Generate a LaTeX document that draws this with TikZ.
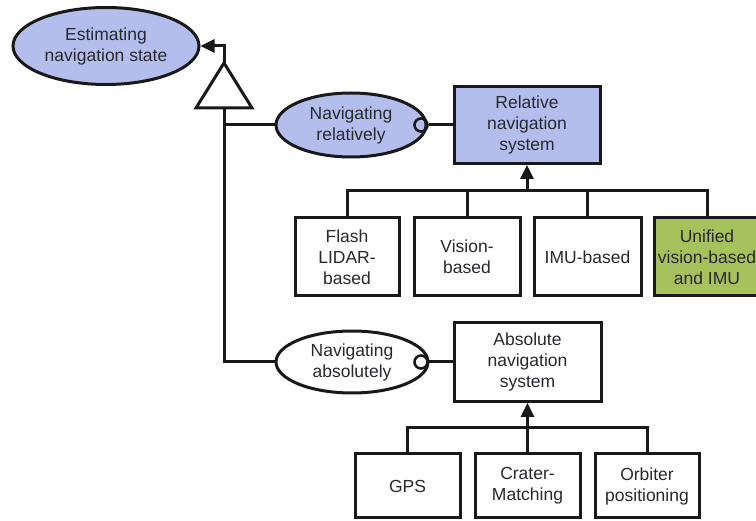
\documentclass[tikz,border=0pt]{standalone}
\usepackage{fontspec}
\setmainfont{Liberation Sans}
\usetikzlibrary{arrows.meta,shapes.geometric}
\definecolor{navblue}{RGB}{180,190,236}
\definecolor{navgreen}{RGB}{166,194,92}
\definecolor{ink}{RGB}{25,25,25}
\definecolor{txt}{RGB}{40,40,46}

\begin{document}
\begin{tikzpicture}[x=1pt,y=-1pt,
  every node/.style={font=\fontsize{17.5}{21}\selectfont, text=txt, align=center, inner sep=0pt},
  link/.style={draw=ink, line width=3pt},
  goal/.style={ellipse, draw=ink, line width=3pt},
  box/.style={rectangle, draw=ink, line width=3pt},
  plug/.style={circle, draw=ink, line width=2.6pt, minimum size=13pt},
  pointer/.style={arrows={-Triangle[length=14pt,width=13pt]}}]

\useasboundingbox (0,0) rectangle (756,521);
\clip (0,0) rectangle (756,521);

% goals
\node[goal, fill=navblue, minimum width=186pt, minimum height=77pt] (est) at (106,46) {Estimating\\navigation state};
\node[goal, fill=navblue, minimum width=150pt, minimum height=64pt] (rel) at (351,125) {Navigating\\relatively};
\node[goal, fill=white, minimum width=152pt, minimum height=62pt] (abs) at (352,362) {Navigating\\absolutely};

% interface circles on the goal borders
\node[plug] (relplug) at (421,125) {};
\node[plug] (absplug) at (421,362) {};

% systems
\node[box, fill=navblue, minimum width=146pt, minimum height=77pt] (relsys) at (527,125) {Relative\\navigation\\system};
\node[box, fill=white, minimum width=147pt, minimum height=79pt] (abssys) at (527.5,362) {Absolute\\navigation\\system};

% relative alternatives
\node[box, fill=white, minimum width=104pt, minimum height=78pt] (flash) at (347,257) {Flash\\LIDAR-\\based};
\node[box, fill=white, minimum width=106pt, minimum height=78pt] (vision) at (467,257) {Vision-\\based};
\node[box, fill=white, minimum width=107pt, minimum height=78pt] (imu) at (587.5,257) {IMU-based};
\node[box, fill=navgreen, minimum width=106pt, minimum height=78pt] (unified) at (707,257) {Unified\\vision-based\\and IMU};

% absolute alternatives
\node[box, fill=white, minimum width=105pt, minimum height=64pt] (gps) at (407.5,486) {GPS};
\node[box, fill=white, minimum width=105pt, minimum height=64pt] (crater) at (527.5,486) {Crater-\\Matching};
\node[box, fill=white, minimum width=104pt, minimum height=64pt] (orbiter) at (647,486) {Orbiter\\positioning};

% decomposition triangle
\coordinate (tritop) at (224,63);
\coordinate (tribase) at (224,108);
\draw[link, fill=white, line join=miter] (tritop) -- (252,108) -- (196,108) -- cycle;
\draw[link, pointer] (tritop) |- (est.east);
\draw[link] (tribase) |- (abs.west);
\draw[link] (tribase |- rel.west) -- (rel.west);

% goal to system links
\draw[link] (relplug.east) -- (relplug.east -| relsys.west);
\draw[link] (absplug.east) -- (absplug.east -| abssys.west);

% relative bus
\coordinate (relbus) at (527,191);
\draw[link] (flash.north) |- (relbus) -| (unified.north);
\draw[link] (vision.north) -- (vision.north |- relbus);
\draw[link] (imu.north) -- (imu.north |- relbus);
\draw[link, pointer] (relbus) -- (relsys.south);

% absolute bus
\coordinate (absbus) at (527.5,428);
\draw[link] (gps.north) |- (absbus) -| (orbiter.north);
\draw[link] (crater.north) -- (absbus);
\draw[link, pointer] (absbus) -- (abssys.south);
\end{tikzpicture}
\end{document}
